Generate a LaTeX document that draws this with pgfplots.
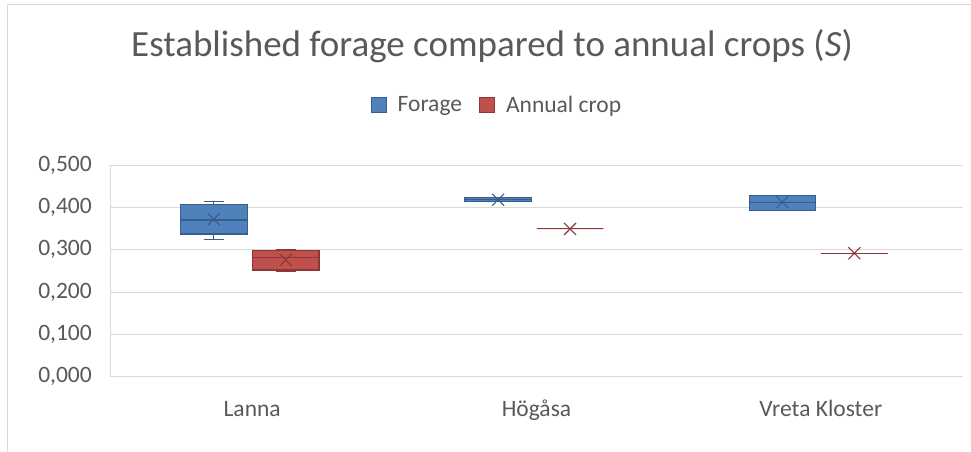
\documentclass[border=0pt]{standalone}
\usepackage{pgfplots}
\pgfplotsset{compat=1.18}
\usepgfplotslibrary{statistics}
\usepackage{fontspec}
\setmainfont{Carlito}

\definecolor{txtgray}{RGB}{89,89,89}
\definecolor{gridgray}{RGB}{217,217,217}
\definecolor{forfill}{RGB}{79,129,189}
\definecolor{fordark}{RGB}{56,93,138}
\definecolor{annfill}{RGB}{192,80,77}
\definecolor{anndark}{RGB}{140,56,54}

\pgfplotsset{
  forage/.style={boxplot/draw direction=y, fill=forfill, draw=fordark, line width=1.1pt,
    boxplot/box extend=0.234, boxplot/whisker extend=0.07,
    boxplot/every average/.style={/tikz/mark=x, /tikz/mark size=8.5pt,
      /tikz/mark options={draw=fordark, line width=1pt}},
    forget plot},
  annual/.style={boxplot/draw direction=y, fill=annfill, draw=anndark, line width=1.1pt,
    boxplot/box extend=0.234, boxplot/whisker extend=0.07,
    boxplot/every average/.style={/tikz/mark=x, /tikz/mark size=8.5pt,
      /tikz/mark options={draw=anndark, line width=1pt}},
    forget plot},
}

\begin{document}
\begin{tikzpicture}
\useasboundingbox (0pt,0pt) rectangle (971pt,452pt);
% chart frame
\draw[gridgray, line width=1pt] (7pt,0pt) -- (7pt,447pt) -- (971pt,447pt);

\node[anchor=base, text=txtgray, font=\fontsize{37}{44}\selectfont] at (492pt,395pt)
  {Established forage compared to annual crops (\textit{S})};

\begin{axis}[
  at={(110pt,75.3pt)}, anchor=south west,
  scale only axis, width=853pt, height=211.7pt,
  xmin=0.5, xmax=3.5, ymin=0, ymax=0.5,
  xtick={1,2,3}, xticklabels={Lanna,Högåsa,Vreta Kloster},
  ytick={0,0.1,0.2,0.3,0.4,0.5},
  axis x line*=bottom, axis y line*=left,
  axis line style={draw=gridgray, line width=1pt, -},
  ymajorgrids, grid style={draw=gridgray, line width=1pt},
  major tick length=0pt,
  tick label style={text=txtgray, font=\fontsize{23.5}{28}\selectfont},
  yticklabel style={anchor=east, inner sep=0pt, xshift=-18pt},
  xticklabel style={anchor=north, inner sep=0pt, text height=16pt, text depth=5pt, yshift=-24pt},
  /pgf/number format/.cd, assume math mode=true, fixed, fixed zerofill, precision=3, use comma, 1000 sep={},
  /pgfplots/.cd,
  legend style={at={(0.453,1.283)}, anchor=center, draw=none, fill=none,
    text=txtgray, font=\fontsize{23.5}{28}\selectfont, legend columns=2,
    nodes={inner sep=1pt},
    /tikz/every odd column/.append style={column sep=10pt},
    /tikz/every even column/.append style={column sep=16pt},
    legend cell align=left},
]
\addlegendimage{legend image code/.code={\draw[fill=forfill, draw=fordark, line width=1pt] (0pt,-7.5pt) rectangle (15pt,7.5pt);}}
\addlegendentry{Forage}
\addlegendimage{legend image code/.code={\draw[fill=annfill, draw=anndark, line width=1pt] (0pt,-7.5pt) rectangle (15pt,7.5pt);}}
\addlegendentry{Annual crop}

% Lanna
\addplot[forage, boxplot prepared={draw position=0.865,
  lower whisker=0.323, lower quartile=0.337, median=0.370,
  upper quartile=0.406, upper whisker=0.413, average=0.372}] coordinates {};
\addplot[annual, boxplot prepared={draw position=1.118,
  lower whisker=0.248, lower quartile=0.252, median=0.282,
  upper quartile=0.298, upper whisker=0.301, average=0.276}] coordinates {};
% Högåsa
\addplot[forage, boxplot prepared={draw position=1.865,
  lower whisker=0.4135, lower quartile=0.4135, median=0.418,
  upper quartile=0.4225, upper whisker=0.4225, average=0.418}] coordinates {};
\addplot[annual, boxplot prepared={draw position=2.118,
  lower whisker=0.349, lower quartile=0.349, median=0.349,
  upper quartile=0.349, upper whisker=0.349, average=0.349}] coordinates {};
% Vreta Kloster
\addplot[forage, boxplot prepared={draw position=2.865,
  lower whisker=0.392, lower quartile=0.392, median=0.411,
  upper quartile=0.429, upper whisker=0.429, average=0.412}] coordinates {};
\addplot[annual, boxplot prepared={draw position=3.118,
  lower whisker=0.2915, lower quartile=0.2915, median=0.2915,
  upper quartile=0.2915, upper whisker=0.2915, average=0.2915}] coordinates {};
\end{axis}
\end{tikzpicture}
\end{document}
